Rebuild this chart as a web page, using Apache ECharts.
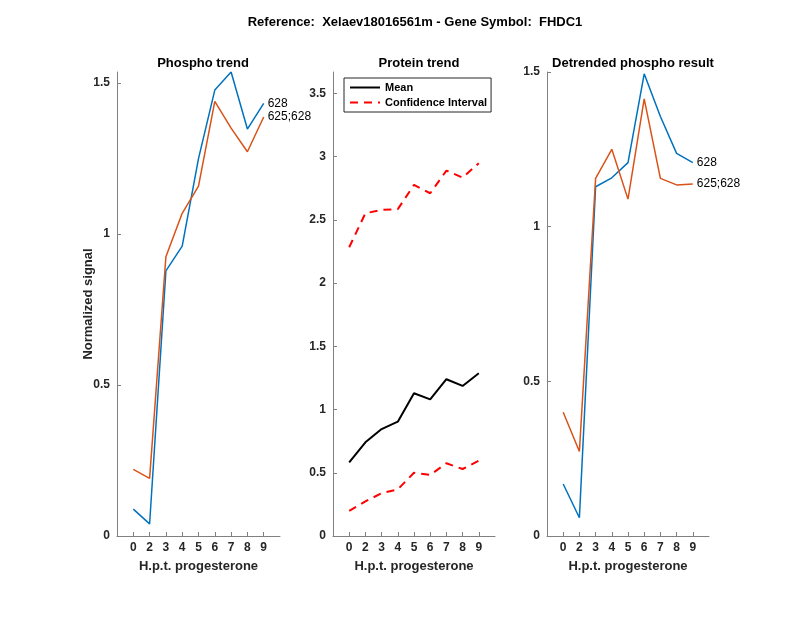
<!DOCTYPE html>
<html>
<head>
<meta charset="utf-8">
<script src="https://cdn.jsdelivr.net/npm/echarts@6/dist/echarts.min.js"></script>
<style>html,body{margin:0;padding:0;background:#fff;}#c{width:800px;height:618px;}</style>
</head>
<body>
<div id="c"></div>
<script>
const categories = ['0','2','3','4','5','6','7','8','9'];
const phospho628 = [0.089, 0.040, 0.878, 0.960, 1.250, 1.477, 1.537, 1.348, 1.433];
const phospho625 = [0.221, 0.191, 0.925, 1.069, 1.159, 1.440, 1.351, 1.273, 1.388];
const proteinMean = [0.583, 0.741, 0.846, 0.904, 1.129, 1.081, 1.240, 1.187, 1.287];
const proteinLower = [0.198, 0.274, 0.338, 0.369, 0.500, 0.483, 0.575, 0.530, 0.596];
const proteinUpper = [2.284, 2.553, 2.579, 2.585, 2.777, 2.711, 2.890, 2.835, 2.949];
const detrended628 = [0.168, 0.059, 1.129, 1.158, 1.207, 1.494, 1.356, 1.237, 1.207];
const detrended625 = [0.400, 0.273, 1.156, 1.250, 1.089, 1.413, 1.156, 1.135, 1.138];
const yTicks1 = [0, 0.5, 1, 1.5];
const yTicks2 = [0, 0.5, 1, 1.5, 2, 2.5, 3, 3.5];
const yTicks3 = [0, 0.5, 1, 1.5];

const FONT = '"Liberation Sans", Arial, Helvetica, sans-serif';
const TXT = '#262626';
const AX = '#808080';
const BLUE = '#0072BD', ORANGE = '#D95319';
const idx = categories.map((c, i) => i);
const pts = arr => arr.map((v, i) => [i, v]);

const grids = [
  {left: 117, right: 520, top: 72, bottom: 82},
  {left: 333, right: 305, top: 72, bottom: 82},
  {left: 547, right: 91, top: 72, bottom: 82}
];

function xAxis(g) {
  return {
    type: 'value', gridIndex: g, min: -1, max: 9, interval: 1,
    axisLine: {show: true, onZero: false, lineStyle: {color: AX, width: 1}},
    axisTick: {show: true, inside: true, length: 4, customValues: idx, lineStyle: {color: AX}},
    axisLabel: {customValues: idx, formatter: v => categories[v] ?? '', color: TXT, fontFamily: FONT, fontSize: 12, fontWeight: 'bold', margin: 6},
    splitLine: {show: false},
    name: 'H.p.t. progesterone', nameLocation: 'middle', nameGap: 24, nameMoveOverlap: false,
    nameTextStyle: {color: TXT, fontFamily: FONT, fontSize: 13, fontWeight: 'bold'}
  };
}
function yAxis(g, max, ticks, name) {
  const a = {
    type: 'value', gridIndex: g, min: 0, max: max,
    axisLine: {show: true, onZero: false, lineStyle: {color: AX, width: 1}},
    axisTick: {show: true, inside: true, length: 4, customValues: ticks, lineStyle: {color: AX}},
    axisLabel: {customValues: ticks, formatter: v => String(v), color: TXT, fontFamily: FONT, fontSize: 12, fontWeight: 'bold', margin: 7},
    splitLine: {show: false}
  };
  if (name) {
    a.name = name; a.nameLocation = 'middle'; a.nameGap = 22; a.nameMoveOverlap = false;
    a.nameTextStyle = {color: TXT, fontFamily: FONT, fontSize: 13, fontWeight: 'bold'};
  }
  return a;
}
function line(name, g, data, color, width, dashed, label) {
  const s = {
    name: name, type: 'line', xAxisIndex: g, yAxisIndex: g, data: pts(data),
    symbol: 'none', showSymbol: false, animation: false, silent: true,
    lineStyle: {color: color, width: width, type: dashed ? [8, 6] : 'solid'},
    itemStyle: {color: color}
  };
  if (label) {
    s.endLabel = {show: true, formatter: label, color: '#000', fontFamily: FONT, fontSize: 12, distance: 4};
  }
  return s;
}

const chart = echarts.init(document.getElementById('c'), null, {renderer: 'canvas'});
chart.setOption({
  backgroundColor: '#fff',
  animation: false,
  title: [
    {text: 'Reference:  Xelaev18016561m - Gene Symbol:  FHDC1', left: 410, top: 11, textAlign: 'center',
     textStyle: {fontFamily: FONT, fontSize: 13, fontWeight: 'bold', color: '#000'}},
    {text: 'Phospho trend', left: 198, top: 52, textAlign: 'center', textStyle: {fontFamily: FONT, fontSize: 13, fontWeight: 'bold', color: '#000'}},
    {text: 'Protein trend', left: 414, top: 52, textAlign: 'center', textStyle: {fontFamily: FONT, fontSize: 13, fontWeight: 'bold', color: '#000'}},
    {text: 'Detrended phospho result', left: 628, top: 52, textAlign: 'center', textStyle: {fontFamily: FONT, fontSize: 13, fontWeight: 'bold', color: '#000'}}
  ],
  legend: {
    left: 344, top: 78, orient: 'vertical', data: ['Mean', 'Confidence Interval'],
    itemWidth: 30, itemHeight: 10, itemGap: 4, padding: [4, 4, 4, 5],
    borderColor: '#262626', borderWidth: 1, backgroundColor: '#fff',
    itemStyle: {opacity: 0},
    textStyle: {fontFamily: FONT, fontSize: 11, fontWeight: 'bold', color: '#000'},
    selectedMode: false
  },
  grid: grids,
  xAxis: [xAxis(0), xAxis(1), xAxis(2)],
  yAxis: [yAxis(0, 1.537, yTicks1, 'Normalized signal'), yAxis(1, 3.67, yTicks2), yAxis(2, 1.5, yTicks3)],
  series: [
    line('628', 0, phospho628, BLUE, 1.5, false, '628'),
    line('625;628', 0, phospho625, ORANGE, 1.5, false, '625;628'),
    line('Mean', 1, proteinMean, '#000', 2, false),
    line('Confidence Interval', 1, proteinUpper, '#FF0000', 2, true),
    line('Confidence Interval', 1, proteinLower, '#FF0000', 2, true),
    line('628', 2, detrended628, BLUE, 1.5, false, '628'),
    line('625;628', 2, detrended625, ORANGE, 1.5, false, '625;628')
  ]
});
</script>
</body>
</html>
